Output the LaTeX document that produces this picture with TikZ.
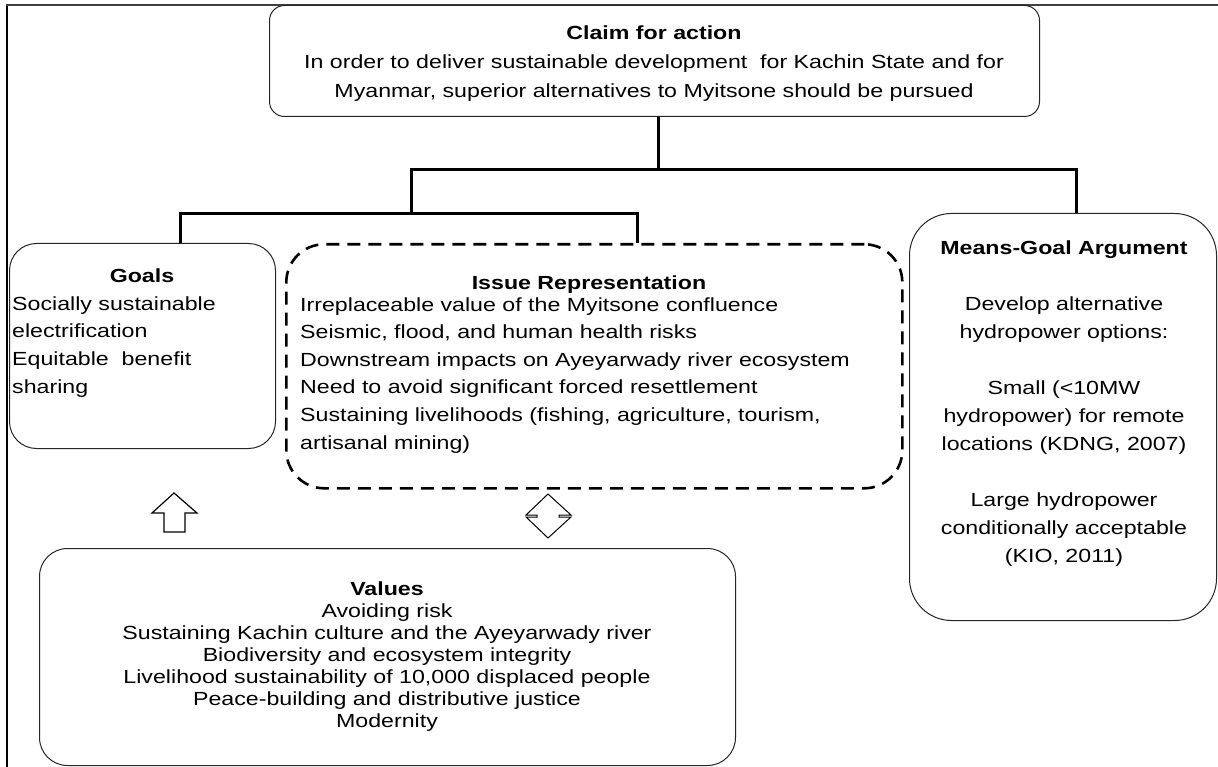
\documentclass[tikz,border=0pt]{standalone}
\usepackage{fontspec}
\setmainfont{Liberation Sans}[FakeStretch=1.22]
\tikzset{
  box/.style={draw=black!85, line width=1pt, rounded corners=#1, inner sep=0pt, anchor=north west},
  dashbox/.style={draw=black, line width=2.6pt, dash pattern=on 13pt off 8pt, rounded corners=#1, inner sep=0pt, anchor=north west},
  link/.style={draw=black, line width=3pt},
  blockarrow/.style={draw=black, line width=1.2pt, line join=miter, fill=white},
  txt/.style={inner sep=0pt, anchor=north, font=\fontsize{19}{28}\selectfont},
  frameleft/.style={draw=black, line width=2pt},
  frametop/.style={draw=black!75, line width=1.4pt}
}
\begin{document}
\begin{tikzpicture}[x=1pt,y=-1pt]
\useasboundingbox (0,0) rectangle (1218,767);
\fill[white] (0,0) rectangle (1218,767);
% outer frame (only top and left edges are inside the picture)
\draw[frameleft] (7,767) -- (7,4.3);
\draw[frametop] (6,5) -- (1218,5);

% boxes
\node[box=15, minimum width=770pt, minimum height=111pt] (claim) at (269,5) {};
\node[box=27, minimum width=266pt, minimum height=205pt] (goals) at (9,243) {};
\node[dashbox=38, minimum width=616pt, minimum height=244pt] (issue) at (285,243) {};
\node[box=42, minimum width=307pt, minimum height=407pt] (means) at (909,213) {};
\node[box=28, minimum width=696pt, minimum height=217pt] (values) at (39,548) {};

% texts
\node[txt, align=center, font=\fontsize{19}{28.8}\selectfont] (claimtxt) at (654,25.5)
  {\textbf{Claim for action}\\In order to deliver sustainable development\ \ for Kachin State and for\\Myanmar, superior alternatives to Myitsone should be pursued};

\node[txt, font=\fontsize{19}{28}\selectfont\bfseries] (goalsT) at (142,268.2) {Goals};
\node[txt, anchor=north west, align=left, font=\fontsize{19}{27.8}\selectfont] (goalsL) at (12,296.2)
  {Socially sustainable\\electrification\\Equitable\ \ benefit\\sharing};

\node[txt, font=\fontsize{19}{28}\selectfont\bfseries] (issueT) at (589,276) {Issue Representation};
\node[txt, anchor=north west, align=left, font=\fontsize{19}{27.6}\selectfont] (issueL) at (300,297.2)
  {Irreplaceable value of the Myitsone confluence\\
   Seismic, flood, and human health risks\\
   Downstream impacts on Ayeyarwady river ecosystem\\
   Need to avoid significant forced resettlement\\
   Sustaining livelihoods (fishing, agriculture, tourism,\\
   artisanal mining)};

\node[txt, align=center, font=\fontsize{19}{28}\selectfont] (meansT) at (1064,240.2)
  {\textbf{Means-Goal Argument}\\[28pt]
   Develop alternative\\hydropower options:\\[28pt]
   Small (<10MW\\hydropower) for remote\\locations (KDNG, 2007)\\[28pt]
   Large hydropower\\conditionally acceptable\\(KIO, 2011)};

\node[txt, align=center, font=\fontsize{19}{22}\selectfont] (valuesT) at (387,581.2)
  {\textbf{Values}\\Avoiding risk\\Sustaining Kachin culture and the Ayeyarwady river\\
   Biodiversity and ecosystem integrity\\Livelihood sustainability of 10,000 displaced people\\
   Peace-building and distributive justice\\Modernity};

% connector tree
\coordinate (t0) at (658,116);
\coordinate (j0) at (658,170);
\coordinate (jL) at (411,170);
\coordinate (jR) at (1076,170);
\coordinate (k0) at (411,214);
\coordinate (kG) at (180,214);
\coordinate (kI) at (637,214);
\draw[link] (claim.south -| t0) -- (j0);
\draw[link] (k0) -- (jL) -- (jR) -- (jR |- means.north);
\draw[link] (kG |- goals.north) -- (kG) -- (kI) -- (kI |- issue.north);

% block arrow from values up to goals
\draw[blockarrow] (174,493) -- (197,513) -- (185,513) -- (185,532) -- (164,532) -- (164,513) -- (152,513) -- cycle;
% double-headed block arrow between issue representation and values
\draw[blockarrow, line width=1pt] (548,494) -- (571,515) -- (559,515) -- (559,517) -- (571,517) -- (548,538)
  -- (526,517) -- (537,517) -- (537,515) -- (526,515) -- cycle;
\end{tikzpicture}
\end{document}
